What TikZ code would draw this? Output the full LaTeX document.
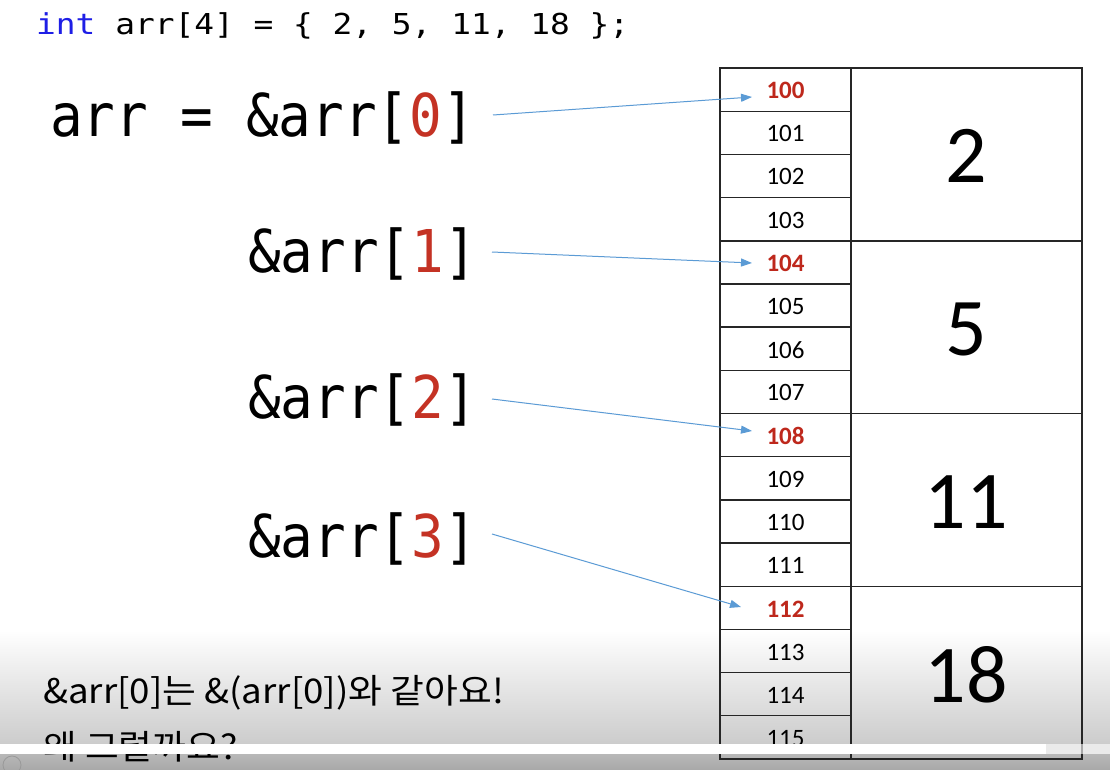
\documentclass[tikz,border=0pt]{standalone}
\usepackage{fontspec}
\usetikzlibrary{arrows.meta}
\newfontfamily\topfont{DejaVu Sans Mono}[FakeStretch=1.14]
\newfontfamily\bigfont{DejaVu Sans Mono}[FakeStretch=0.92]
\newfontfamily\cellfont{Carlito}
\newfontfamily\kofont{Noto Sans CJK KR}[FakeStretch=1.08]
\definecolor{kwblue}{RGB}{30,30,230}
\definecolor{idxred}{RGB}{196,50,36}
\definecolor{adred}{RGB}{190,40,28}
\definecolor{ptrblue}{RGB}{91,155,213}
\definecolor{tabgray}{RGB}{38,38,38}
\tikzset{
  ptr/.style={draw=ptrblue, line width=1pt, -{Triangle[length=11pt,width=8pt]}},
  tabline/.style={draw=tabgray, line width=1.5pt},
  addr/.style={inner sep=0pt, font=\cellfont\fontsize{25}{28}\selectfont},
  hot/.style={addr, text=adred, font=\cellfont\bfseries\fontsize{25}{28}\selectfont},
  val/.style={inner sep=0pt, font=\cellfont\fontsize{82}{90}\selectfont},
  bigline/.style={anchor=base west, inner sep=0pt, font=\bigfont\fontsize{59}{70}\selectfont},
  kotext/.style={anchor=base west, inner sep=0pt, font=\kofont\fontsize{34}{40}\selectfont},
}
\begin{document}
\begin{tikzpicture}[x=1pt,y=-1pt]
\useasboundingbox (0,0) rectangle (1110,770);
\fill[white] (0,0) rectangle (1110,770);
% bottom gradient (video overlay)
\shade[top color=white, bottom color=black!20] (0,630) rectangle (1110,744);
\shade[top color=black!28, bottom color=black!34] (0,754) rectangle (1110,770);
\fill[black!20] (0,744) rectangle (1110,754);

% code line
\node[anchor=base west, inner sep=0pt, font=\topfont\fontsize{28.8}{34}\selectfont] (code) at (36,35)
  {\frenchspacing\textcolor{kwblue}{int} arr[4] = \{ 2, 5, 11, 18 \};};

% big lines
\node[bigline] (l0) at (50,137) {arr = \&arr[\textcolor{idxred}{0}]};
\node[bigline] (l1) at (248,272) {\&arr[\textcolor{idxred}{1}]};
\node[bigline] (l2) at (248,418) {\&arr[\textcolor{idxred}{2}]};
\node[bigline] (l3) at (248,557) {\&arr[\textcolor{idxred}{3}]};

% memory table
\def\rh{43.1875}
\foreach \i in {1,...,15}{
  \draw[tabline, line width=1.3pt] (720,68+\rh*\i) -- (851,68+\rh*\i);
}
\foreach \i in {4,8,12}{
  \draw[tabline, line width=1.5pt] (720,68+\rh*\i) -- (1082,68+\rh*\i);
}
\draw[tabline] (851,68) -- (851,759);
\draw[tabline, line width=2pt] (720,68) rectangle (1082,759);

\foreach \i/\t in {0/100,4/104,8/108,12/112}{
  \node[hot] (c\t) at (785.5,68+\rh*\i+\rh/2+1) {\t};
}
\foreach \i/\t in {1/101,2/102,3/103,5/105,6/106,7/107,9/109,10/110,11/111,13/113,14/114,15/115}{
  \node[addr] (c\t) at (785.5,68+\rh*\i+\rh/2+1) {\t};
}
\node[val] (v0) at (966.5,156) {2};
\node[val] (v1) at (966.5,329) {5};
\node[val] (v2) at (966.5,502) {11};
\node[val] (v3) at (966.5,675) {18};

% pointers
\coordinate (s0) at (493,115);
\coordinate (t0) at (752,97);
\coordinate (s1) at (492,252);
\coordinate (t1) at (752,263);
\coordinate (s2) at (492,399);
\coordinate (t2) at (752,431);
\coordinate (s3) at (492,534);
\coordinate (t3) at (741,607);
\draw[ptr] (s0) -- (t0);
\draw[ptr] (s1) -- (t1);
\draw[ptr] (s2) -- (t2);
\draw[ptr] (s3) -- (t3);

% korean caption
\node[kotext] (ko1) at (43,703) {\&arr[0]는 \&(arr[0])와 같아요!};
\node[kotext] (ko2) at (43,759) {왜 그럴까요?};

% progress bar overlay
\fill[white] (0,744) rectangle (1046,754);
\fill[white, opacity=0.6] (1046,744) rectangle (1110,754);
\draw[black!40, line width=0.8pt] (12,765) circle (9);
\end{tikzpicture}
\end{document}
